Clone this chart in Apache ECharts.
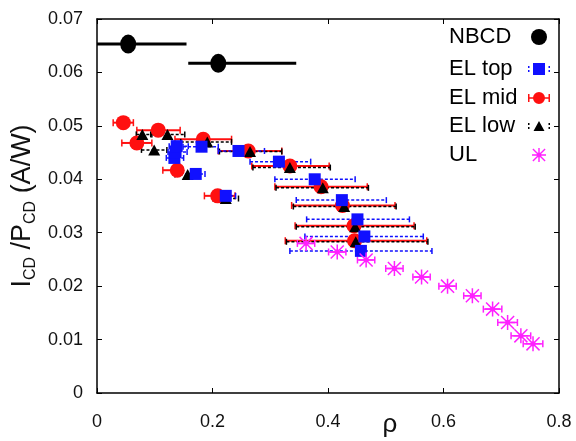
<!DOCTYPE html>
<html><head><meta charset="utf-8">
<script src="https://cdn.jsdelivr.net/npm/echarts@6/dist/echarts.min.js"></script>
<style>html,body{margin:0;padding:0;background:#fff}#c{width:576px;height:441px}</style>
</head><body><div id="c"></div>
<script>
// ---- tick labels ----
const xTickLabels = ['0', '0.2', '0.4', '0.6', '0.8'];
const yTickLabels = ['0', '0.01', '0.02', '0.03', '0.04', '0.05', '0.06', '0.07'];

// ---- NBCD ----
const nbcdX  = [0.054, 0.210];
const nbcdY  = [0.0653, 0.0617];
const nbcdLo = [0.000, 0.158];
const nbcdHi = [0.155, 0.345];

// ---- EL top (blue squares) ----
const topX  = [0.134, 0.136, 0.138, 0.171, 0.181, 0.223, 0.245, 0.315, 0.377, 0.424, 0.451, 0.463, 0.457];
const topY  = [0.0440, 0.0451, 0.0462, 0.0410, 0.0461, 0.0369, 0.0453, 0.0433, 0.0400, 0.0361, 0.0325, 0.0293, 0.0266];
const topLo = [0.120, 0.123, 0.125, 0.135, 0.149, 0.204, 0.210, 0.265, 0.308, 0.345, 0.363, 0.360, 0.334];
const topHi = [0.150, 0.156, 0.158, 0.187, 0.210, 0.240, 0.290, 0.370, 0.447, 0.501, 0.541, 0.565, 0.580];

// ---- EL mid (red circles) ----
const midX  = [0.0456, 0.069, 0.106, 0.139, 0.184, 0.209, 0.262, 0.334, 0.388, 0.425, 0.445, 0.446];
const midY  = [0.0506, 0.0468, 0.0492, 0.0417, 0.0475, 0.0369, 0.0453, 0.0425, 0.0386, 0.0351, 0.0313, 0.0285];
const midLo = [0.028, 0.043, 0.069, 0.114, 0.135, 0.186, 0.210, 0.268, 0.308, 0.337, 0.343, 0.326];
const midHi = [0.063, 0.095, 0.144, 0.149, 0.233, 0.239, 0.320, 0.402, 0.468, 0.516, 0.549, 0.571];

// ---- EL low (black triangles) ----
const lowX  = [0.0785, 0.099, 0.122, 0.157, 0.191, 0.223, 0.265, 0.334, 0.391, 0.428, 0.447, 0.448];
const lowY  = [0.0484, 0.0455, 0.0484, 0.0409, 0.0470, 0.0364, 0.0452, 0.0422, 0.0384, 0.0349, 0.0311, 0.0283];
const lowLo = [0.068, 0.077, 0.093, 0.135, 0.145, 0.201, 0.212, 0.270, 0.310, 0.340, 0.345, 0.328];
const lowHi = [0.095, 0.121, 0.152, 0.178, 0.233, 0.245, 0.320, 0.404, 0.470, 0.518, 0.551, 0.573];

// ---- UL (magenta stars) ----
const ulX  = [0.362, 0.416, 0.466, 0.515, 0.562, 0.607, 0.650, 0.685, 0.711, 0.734, 0.755];
const ulY  = [0.0280, 0.0264, 0.0249, 0.0233, 0.0217, 0.0200, 0.0182, 0.0157, 0.0132, 0.0107, 0.0092];
const ulLo = [0.347, 0.401, 0.451, 0.500, 0.547, 0.592, 0.635, 0.669, 0.694, 0.717, 0.738];
const ulHi = [0.377, 0.431, 0.481, 0.530, 0.577, 0.622, 0.665, 0.701, 0.728, 0.751, 0.772];

const FONT = '"Liberation Sans", Arial, Helvetica, sans-serif';
const BLUE = '#1010ff', RED = '#ff1010', BLACK = '#000000', MAG = '#ff20ff';

const STAR = 'path://M4.5,0H5.5V10H4.5Z M0,4.5H10V5.5H0Z M1,0.3L9.7,9L9,9.7L0.3,1Z M9,0.3L9.7,1L1,9.7L0.3,9Z M3.4,3.4H6.6V6.6H3.4Z';

function pts(X, Y) { return X.map((x, i) => [x, Y[i]]); }
function errs(X, Y, L, H) { return X.map((x, i) => [x, Y[i], L[i], H[i]]); }

function errRender(lineStyle, capStyle, capH) {
  return function (params, api) {
    const y = api.value(1);
    const a = api.coord([api.value(2), y]);
    const b = api.coord([api.value(3), y]);
    const ch = [{ type: 'line', shape: { x1: a[0], y1: a[1], x2: b[0], y2: b[1] }, style: lineStyle }];
    if (capH) {
      ch.push({ type: 'line', shape: { x1: a[0], y1: a[1] - capH / 2, x2: a[0], y2: a[1] + capH / 2 }, style: capStyle });
      ch.push({ type: 'line', shape: { x1: b[0], y1: b[1] - capH / 2, x2: b[0], y2: b[1] + capH / 2 }, style: capStyle });
    }
    return { type: 'group', children: ch };
  };
}

function errSeries(name, data, lineStyle, capStyle, capH) {
  return { name: name, type: 'custom', data: data, encode: { x: 0, y: 1 }, silent: true, clip: true,
    renderItem: errRender(lineStyle, capStyle, capH) };
}

function legendFor(name, icon, w, h, rowY, keep) {
  return {
    data: [{ name: name, icon: icon }],
    orient: 'vertical', align: 'right', padding: 0,
    left: 449, top: rowY - 13,
    itemWidth: w, itemHeight: h, symbolKeepAspect: keep,
    selectedMode: false,
    formatter: n => '{t|' + n + '}',
    textStyle: { rich: { t: { width: 85 - w / 2, align: 'left', fontSize: 22, lineHeight: 26, fontFamily: FONT, color: '#000' } } }
  };
}

const axisLine = { onZero: false, lineStyle: { color: '#000', width: 1.5 } };
const tick = { inside: true, length: 5, lineStyle: { color: '#000', width: 1 } };

const option = {
  animation: false,
  backgroundColor: '#fff',
  grid: { left: 97, right: 17, top: 19, bottom: 48, containLabel: false, outerBoundsMode: 'none' },
  legend: [
    legendFor('NBCD', 'circle', 16, 19, 39, false),
    legendFor('EL top', 'path://M0,3H1.5V5H0Z M0,7H1.5V9H0Z M5,0H17V12H5Z M20.5,3H22V5H20.5Z M20.5,7H22V9H20.5Z', 22, 12, 71, true),
    legendFor('EL mid', 'path://M0,2H1.5V10H0Z M20.5,2H22V10H20.5Z M0,5.2H22V6.8H0Z M11,0A6,6 0 1,1 10.99,0Z', 22, 12, 100, true),
    legendFor('EL low', 'path://M0,3H1.5V5H0Z M0,7H1.5V9H0Z M11,1L16.5,11H5.5Z M20.5,3H22V5H20.5Z M20.5,7H22V9H20.5Z', 22, 12, 128, true),
    legendFor('UL', STAR, 14, 14, 157, true)
  ],
  xAxis: [
    { type: 'value', position: 'bottom', min: 0, max: 0.8, interval: 0.2,
      axisLine: axisLine, axisTick: tick, splitLine: { show: false },
      axisLabel: { fontSize: 18, color: '#111', fontFamily: FONT, margin: 20,
        formatter: (v, i) => xTickLabels[Math.round(v / 0.2)] },
      name: 'ρ', nameLocation: 'middle', nameGap: 19, nameMoveOverlap: false,
      nameTextStyle: { fontSize: 26, color: '#111', fontFamily: FONT, padding: [0, 0, 0, 124] } },
    { type: 'value', position: 'top', min: 0, max: 0.8, interval: 0.2,
      axisLine: axisLine, axisTick: tick, splitLine: { show: false }, axisLabel: { show: false } }
  ],
  yAxis: [
    { type: 'value', position: 'left', min: 0, max: 0.07, interval: 0.01,
      axisLine: axisLine, axisTick: tick, splitLine: { show: false },
      axisLabel: { fontSize: 18, color: '#111', fontFamily: FONT, margin: 14,
        formatter: (v) => yTickLabels[Math.round(v / 0.01)] },
      name: '{m|I}{s|CD}{m| /P}{s|CD}{m| (A/W)}', nameLocation: 'middle', nameRotate: 90, nameGap: 58, nameMoveOverlap: false,
      nameTextStyle: { rich: {
        m: { fontSize: 27, lineHeight: 32, fontFamily: FONT, color: '#111' },
        s: { fontSize: 16, lineHeight: 16, verticalAlign: 'bottom', fontFamily: FONT, color: '#111' } } } },
    { type: 'value', position: 'right', min: 0, max: 0.07, interval: 0.01,
      axisLine: axisLine, axisTick: tick, splitLine: { show: false }, axisLabel: { show: false } }
  ],
  series: [
    errSeries('NBCD err', errs(nbcdX, nbcdY, nbcdLo, nbcdHi), { stroke: BLACK, lineWidth: 3 }, null, 0),
    { name: 'NBCD', type: 'scatter', data: pts(nbcdX, nbcdY), symbol: 'circle', symbolSize: [16, 19],
      itemStyle: { color: BLACK, opacity: 1 }, silent: true },

    errSeries('EL mid err', errs(midX, midY, midLo, midHi), { stroke: RED, lineWidth: 2 }, { stroke: RED, lineWidth: 1.5 }, 7),
    { name: 'EL mid', type: 'scatter', data: pts(midX, midY), symbol: 'circle', symbolSize: 15,
      itemStyle: { color: RED, opacity: 1 }, silent: true },

    errSeries('EL low err', errs(lowX, lowY, lowLo, lowHi), { stroke: BLACK, lineWidth: 1.5, lineDash: [3, 2] }, { stroke: BLACK, lineWidth: 1.5 }, 6),
    { name: 'EL low', type: 'scatter', data: pts(lowX, lowY), symbol: 'triangle', symbolSize: [12, 11],
      itemStyle: { color: BLACK, opacity: 1 }, silent: true },

    errSeries('EL top err', errs(topX, topY, topLo, topHi), { stroke: BLUE, lineWidth: 1.5, lineDash: [3, 2] }, { stroke: BLUE, lineWidth: 1.5 }, 6),
    { name: 'EL top', type: 'scatter', data: pts(topX, topY), symbol: 'rect', symbolSize: 12,
      itemStyle: { color: BLUE, opacity: 1 }, silent: true },

    errSeries('UL err', errs(ulX, ulY, ulLo, ulHi), { stroke: MAG, lineWidth: 1.5 }, { stroke: MAG, lineWidth: 1.5 }, 7),
    { name: 'UL', type: 'scatter', data: pts(ulX, ulY), symbol: STAR, symbolSize: 15,
      itemStyle: { color: MAG, opacity: 1 }, silent: true }
  ]
};

const chart = echarts.init(document.getElementById('c'), null, { renderer: 'canvas' });
chart.setOption(option);
</script></body></html>
